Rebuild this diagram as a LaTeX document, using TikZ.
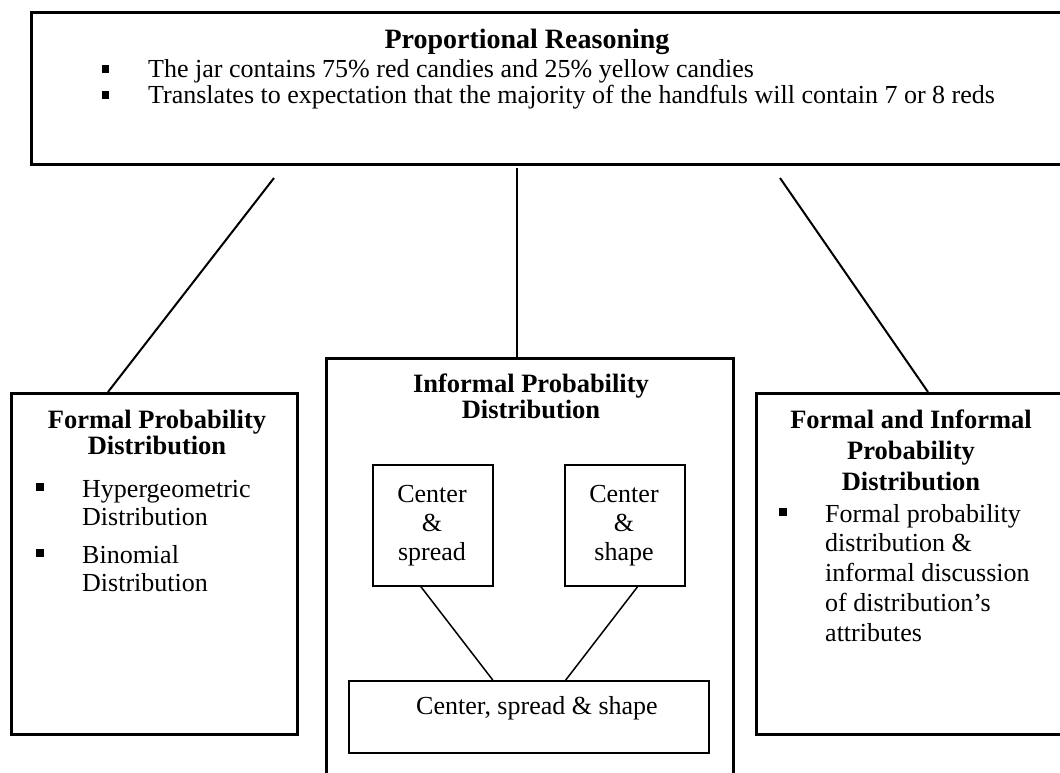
\documentclass[tikz,border=0pt]{standalone}
\usepackage{fontspec}
\setmainfont{Liberation Serif}
\usetikzlibrary{calc}
\begin{document}
\begin{tikzpicture}[x=1pt,y=-1pt,
  bigbox/.style={draw, line width=3pt, inner sep=0pt, anchor=north west},
  smallbox/.style={draw, line width=1.5pt, inner sep=0pt, anchor=north west},
  link/.style={line width=2pt},
  sublink/.style={line width=1.5pt},
  bul/.style={fill=black, inner sep=0pt, minimum size=7.5pt},
  txt/.style={font=\fontsize{26}{30}\selectfont, inner sep=0pt, anchor=base west},
  ctxt/.style={font=\fontsize{26}{30}\selectfont, inner sep=0pt, anchor=base},
  ttl/.style={font=\fontsize{26.5}{30}\selectfont\bfseries, inner sep=0pt, anchor=base},
  bigttl/.style={font=\fontsize{28}{32}\selectfont\bfseries, inner sep=0pt, anchor=base}]
\useasboundingbox (0,0) rectangle (1060,773);

% boxes
\node[bigbox, minimum width=1045pt, minimum height=152pt] (top) at (30,11) {};
\node[bigbox, minimum width=286pt, minimum height=341pt] (left) at (10,392) {};
\node[bigbox, minimum width=407pt, minimum height=440pt] (mid) at (325,357) {};
\node[bigbox, minimum width=320pt, minimum height=341pt] (right) at (755,392) {};
\node[smallbox, minimum width=120pt, minimum height=121pt] (cs) at (372,464) {};
\node[smallbox, minimum width=120pt, minimum height=121pt] (ch) at (564,464) {};
\node[smallbox, minimum width=360pt, minimum height=72pt] (csh) at (348,680) {};

% top text
\node[bigttl] (ttop) at (527,49) {Proportional Reasoning};
\node[bul] (tb1) at (105.5,69) {};
\node[txt] (tt1) at (148,78) {The jar contains 75\% red candies and 25\% yellow candies};
\node[bul] (tb2) at (105.5,95) {};
\node[txt] (tt2) at (148,104) {Translates to expectation that the majority of the handfuls will contain 7 or 8 reds};

% left box text
\node[ttl] (lt1) at (157,428) {Formal Probability};
\node[ttl] (lt2) at (157,454) {Distribution};
\node[bul] (lb1) at (40,487) {};
\node[txt] (li1) at (82,497) {Hypergeometric};
\node[txt] (li2) at (82,525) {Distribution};
\node[bul] (lb2) at (40,553) {};
\node[txt] (li3) at (82,563) {Binomial};
\node[txt] (li4) at (82,591) {Distribution};

% middle box text
\node[ttl] (mt1) at (531,392) {Informal Probability};
\node[ttl] (mt2) at (531,418) {Distribution};
\node[ctxt] (c1) at (432,502) {Center};
\node[ctxt] (c2) at (432,531) {\&};
\node[ctxt] (c3) at (432,560) {spread};
\node[ctxt] (d1) at (624,502) {Center};
\node[ctxt] (d2) at (624,531) {\&};
\node[ctxt] (d3) at (624,560) {shape};
\node[ctxt] (e1) at (537,714) {Center, spread \& shape};

% right box text
\node[ttl] (rt1) at (911,428) {Formal and Informal};
\node[ttl] (rt2) at (911,459) {Probability};
\node[ttl] (rt3) at (911,490) {Distribution};
\node[bul] (rb1) at (783,512) {};
\node[txt] (ri1) at (825,522) {Formal probability};
\node[txt] (ri2) at (825,551) {distribution \&};
\node[txt] (ri3) at (825,581) {informal discussion};
\node[txt] (ri4) at (825,611) {of distribution’s};
\node[txt] (ri5) at (825,641) {attributes};

% connectors
\coordinate (la) at (274,178);
\coordinate (lb) at (108,392);
\coordinate (ma) at (517,168);
\coordinate (mb) at (517,357);
\coordinate (ra) at (780,178);
\coordinate (rb) at (928,392);
\draw[link] (la) -- (lb);
\draw[link] (ma) -- (mb);
\draw[link] (ra) -- (rb);
\draw[sublink] ($(cs.south)+(-12,0)$) -- ($(csh.north)+(-36,0)$);
\draw[sublink] ($(ch.south)+(13,0)$) -- ($(csh.north)+(37,0)$);
\end{tikzpicture}
\end{document}
